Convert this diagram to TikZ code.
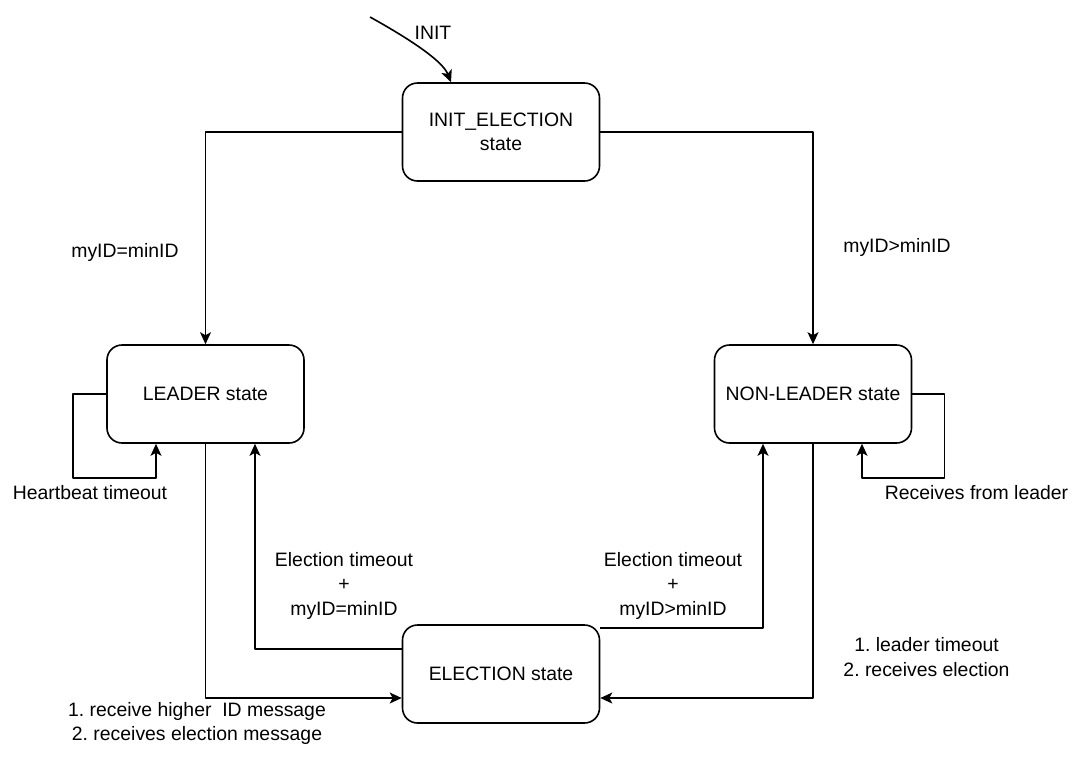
\documentclass[tikz,border=0pt]{standalone}
\usepackage{fontspec}
\setmainfont{Liberation Sans}
\usetikzlibrary{arrows.meta}
\frenchspacing
\begin{document}
\begin{tikzpicture}[x=1pt, y=-1pt, line join=round, >={Stealth[length=12pt,width=11pt,inset=3pt]},
	every node/.style={font=\fontsize{19.4}{24.5}\selectfont, align=center},
	stbox/.style={draw, line width=1.6pt, rounded corners=15pt, fill=white, minimum width=197pt, minimum height=98pt, inner sep=0pt},
	conn/.style={->, line width=1.6pt}]
	\useasboundingbox (0,0) rectangle (1086,772);
	%Ve cac trang thai
	\node[stbox] (initel) at (501,132) {INIT\_ELECTION\\state};
	\node[stbox] (leader) at (205.5,394) {LEADER state};
	\node[stbox] (nonleader) at (813,394) {NON-LEADER state};
	\node[stbox] (election) at (501,674) {ELECTION state};
	%Ve cac nhan
	\node (linit) at (433,33) {INIT};
	\node (lmin) at (125,252) {myID=minID};
	\node (lmax) at (897,247) {myID>minID};
	\node (lhb) at (90,493) {Heartbeat timeout};
	\node (lrecv) at (976.5,493) {Receives from leader};
	\node (ltomin) at (344,585.5) {Election timeout\\+\\myID=minID};
	\node (ltomax) at (673,585.5) {Election timeout\\+\\myID>minID};
	\node (lhigher) at (197,723.5) {1. receive higher\ \ ID message\\2. receives election message};
	\node (lleadto) at (926.5,657) {1. leader timeout\\2. receives election};
	%Ve cac mui ten
	\coordinate (start) at (370,17);
	\draw[conn] (start) .. controls (415,42) and (443,62) .. ([xshift=-50pt]initel.north);
	\draw[conn] (initel.west) -| (leader.north);
	\draw[conn] (initel.east) -| (nonleader.north);
	\draw[<-, line width=1.6pt] ([xshift=-49.5pt]leader.south) -- ++(0,34) -| ([xshift=-33pt]leader.west) -- (leader.west);
	\draw[<-, line width=1.6pt] ([xshift=49pt]nonleader.south) -- ++(0,34) -| ([xshift=32pt]nonleader.east) -- (nonleader.east);
	\draw[conn] (leader.south) |- ([yshift=-24pt]election.west);
	\draw[conn] (nonleader.south) |- ([yshift=-24pt]election.east);
	\draw[conn] ([yshift=25pt]election.west) -| ([xshift=49.5pt]leader.south);
	\draw[conn] ([yshift=46pt]election.east) -| ([xshift=-50pt]nonleader.south);
\end{tikzpicture}
\end{document}
